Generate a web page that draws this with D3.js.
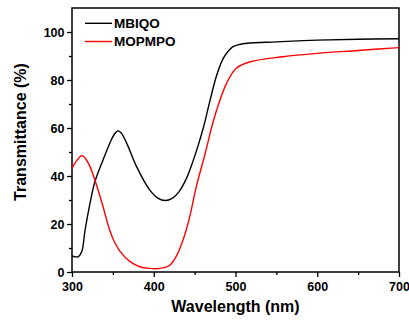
<!DOCTYPE html>
<html>
<head>
<meta charset="utf-8">
<script src="https://cdn.jsdelivr.net/npm/d3@7"></script>
<style>
  html, body { margin: 0; padding: 0; background: #fff; }
  svg { display: block; }
  text { font-family: "Liberation Sans", Arial, sans-serif; font-weight: bold; fill: #000; }
</style>
</head>
<body>
<svg id="chart" width="409" height="320"></svg>
<script>
// ---- data ----
const seriesNames = ["MBIQO", "MOPMPO"];
const seriesColors = ["#000000", "#ff0000"];
const mbiqoWavelength = [300, 305, 308, 312, 316, 322, 328, 338, 348, 352, 356, 360, 367, 379, 395, 405, 414, 423, 431, 440, 448, 455, 461, 469, 477, 485, 491, 497, 505, 514, 550, 600, 650, 700];
const mbiqoT =          [6.7, 6.3, 6.4, 8.5, 17.5, 28.6, 37.6, 46.7, 55, 57.5, 58.8, 58, 53.6, 43.9, 34.2, 30.8, 29.8, 30.8, 33.5, 39, 46.2, 53.5, 60.5, 71.7, 82, 89, 92, 93.9, 94.8, 95.3, 95.9, 96.6, 97, 97.2];
const mopmpoWavelength = [300, 306, 312, 316, 322, 328, 338, 346, 352, 359, 371, 383, 395, 405, 413, 420, 428, 436, 444, 452, 463, 471, 477, 489, 501, 518, 558, 600, 650, 700];
const mopmpoT =          [43.2, 46.5, 48.5, 47.5, 43.9, 38.3, 27.2, 17.5, 12.5, 8.5, 4.3, 2.2, 1.5, 1.4, 1.8, 2.9, 6.8, 13.5, 23, 35.5, 49.5, 60.5, 67.5, 78.6, 84.9, 87.6, 89.7, 91.1, 92.3, 93.5];
const xTicks = [300, 400, 500, 600, 700];
const xMinorTicks = [350, 450, 550, 650];
const yTicks = [0, 20, 40, 60, 80, 100];
const yMinorTicks = [10, 30, 50, 70, 90];
const xTitle = "Wavelength (nm)";
const yTitle = "Transmittance (%)";

// ---- layout ----
const L = 72, R = 399, T = 8, B = 272;
const svg = d3.select("#chart");
const x = d3.scaleLinear().domain([300, 700]).range([L, R]);
const y = d3.scaleLinear().domain([0, 110]).range([B, T]);

// axes
svg.append("g").attr("transform", `translate(0,${B})`)
  .call(d3.axisBottom(x).tickValues(xTicks).tickSize(5).tickPadding(5.5).tickFormat(d3.format("d")));
svg.append("g").attr("transform", `translate(0,${B})`)
  .call(d3.axisBottom(x).tickValues(xMinorTicks).tickSize(3).tickFormat(""));
svg.append("g").attr("transform", `translate(${L},0)`)
  .call(d3.axisLeft(y).tickValues(yTicks).tickSize(5).tickPadding(2.5).tickFormat(d3.format("d")));
svg.append("g").attr("transform", `translate(${L},0)`)
  .call(d3.axisLeft(y).tickValues(yMinorTicks).tickSize(3).tickFormat(""));
svg.selectAll(".domain").remove();
svg.selectAll(".tick line").attr("stroke", "#000").attr("stroke-width", 1.3);
svg.selectAll(".tick text").style("font-size", "12.5px").style("font-family", "'Liberation Sans', Arial, sans-serif").style("font-weight", "bold");

// frame
svg.append("rect").attr("x", L).attr("y", T).attr("width", R - L).attr("height", B - T)
  .attr("fill", "none").attr("stroke", "#000").attr("stroke-width", 1.5);

// lines
svg.append("clipPath").attr("id", "clip").append("rect")
  .attr("x", L).attr("y", T).attr("width", R - L).attr("height", B - T);
const line = d3.line().x(d => x(d[0])).y(d => y(d[1])).curve(d3.curveCatmullRom.alpha(0.5));
const series = [
  d3.zip(mbiqoWavelength, mbiqoT),
  d3.zip(mopmpoWavelength, mopmpoT)
];
series.forEach((s, i) => {
  svg.append("path").datum(s).attr("d", line)
    .attr("fill", "none").attr("stroke", seriesColors[i]).attr("stroke-width", 1.4)
    .attr("clip-path", "url(#clip)");
});

// legend
const legY = [23.3, 41.5];
seriesNames.forEach((n, i) => {
  svg.append("line").attr("x1", 85).attr("x2", 112).attr("y1", legY[i]).attr("y2", legY[i])
    .attr("stroke", seriesColors[i]).attr("stroke-width", 1.4);
  svg.append("text").attr("x", 114).attr("y", legY[i] + 4.8).style("font-size", "13.5px").text(n);
});

// titles
svg.append("text").attr("x", (L + R) / 2).attr("y", 312).attr("text-anchor", "middle")
  .style("font-size", "16px").text(xTitle);
svg.append("text").attr("transform", "translate(25.5,132) rotate(-90)").attr("text-anchor", "middle")
  .style("font-size", "16px").text(yTitle);
</script>
</body>
</html>
